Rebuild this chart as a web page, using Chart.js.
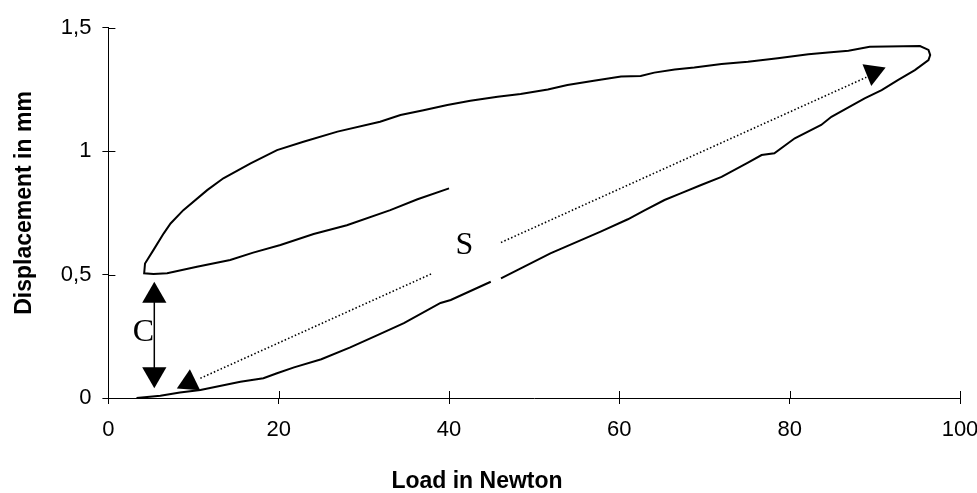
<!DOCTYPE html>
<html>
<head>
<meta charset="utf-8">
<script src="https://cdn.jsdelivr.net/npm/chart.js@4.4.1/dist/chart.umd.min.js"></script>
<style>
  html, body { margin: 0; padding: 0; background: #fff; overflow: hidden; }
  #chart { display: block; }
</style>
</head>
<body>
<canvas id="chart" width="977" height="493"></canvas>
<script>
// hysteresis loop: loading branch, unloading branch, then reloading branch
// (null = the small break in the loading branch)
const loadN = [3.3, 6.1, 8.4, 10.8, 15.5, 18.2, 19.8, 21.8, 25.0, 28.4, 31.6, 34.7, 39.0, 40.2, 44.9, null,
  46.1, 51.9, 57.8, 61.0, 62.9, 65.3, 67.2, 69.6, 72.0, 75.1, 76.7, 78.2, 80.6, 83.7, 84.9, 88.8, 90.8, 92.7, 94.7, 96.3, 96.5,
  96.3, 95.3, 89.4, 86.9, 84.5, 82.2, 78.6, 75.1, 72.0, 68.8, 66.5, 64.1, 62.5, 60.2, 57.0, 53.9, 51.6, 48.4, 45.7, 42.5,
  39.8, 37.0, 34.3, 31.9, 26.9, 22.9, 19.8, 16.7, 13.5, 11.6, 8.8, 7.3, 6.5, 5.3, 4.3, 4.2,
  5.3, 6.9, 10.4, 14.3, 17.0, 20.2, 24.1, 28.0, 33.1, 36.3, 40.0];
const dispMm = [0.0, 0.009, 0.022, 0.032, 0.066, 0.08, 0.10, 0.124, 0.157, 0.205, 0.255, 0.303, 0.385, 0.397, 0.471, null,
  0.485, 0.586, 0.674, 0.724, 0.759, 0.802, 0.829, 0.863, 0.896, 0.953, 0.984, 0.991, 1.052, 1.106, 1.139, 1.214, 1.247, 1.288, 1.328, 1.369, 1.389,
  1.41, 1.426, 1.423, 1.407, 1.400, 1.392, 1.376, 1.362, 1.353, 1.339, 1.331, 1.318, 1.304, 1.302, 1.285, 1.268, 1.250, 1.231, 1.220, 1.204,
  1.187, 1.166, 1.146, 1.119, 1.079, 1.038, 1.004, 0.950, 0.890, 0.842, 0.761, 0.707, 0.667, 0.600, 0.545, 0.505,
  0.502, 0.505, 0.532, 0.559, 0.589, 0.620, 0.664, 0.700, 0.761, 0.805, 0.849];

// dotted "S" line, broken around its label
const sLineX = [10.8, 38.0, null, 46.1, 89.0];
const sLineY = [0.08, 0.504, null, 0.630, 1.299];
const sHeadX = [9.46, 89.8];
const sHeadY = [0.062, 1.318];
const sHeadRot = [4, 188];

// "C" double arrow
const cArrowX = [5.39, 5.39];
const cArrowY = [0.096, 0.414];
const cArrowRot = [180, 0];

const markLabels = ["S", "C"];
const markX = [41.8, 4.1];
const markY = [0.617, 0.264];

const xTicks = [0, 20, 40, 60, 80, 100];
const xTickLabels = ["0", "20", "40", "60", "80", "100"];
const yTicks = [0, 0.5, 1, 1.5];
const yTickLabels = ["0", "0,5", "1", "1,5"];
const xTitle = "Load in Newton";
const yTitle = "Displacement in mm";

const pts = (xs, ys) => xs.map((x, i) => ({ x: x, y: ys[i] }));

Chart.defaults.font.family = "'Liberation Sans', Arial, sans-serif";
Chart.defaults.color = "#000";

// inner half of the crossing ticks, the S / C letters and the axis titles
const extras = {
  id: "extras",
  afterDatasetsDraw(chart) {
    const { ctx, scales } = chart;
    const x = scales.x, y = scales.y;
    ctx.save();
    ctx.strokeStyle = "#000";
    ctx.lineWidth = 1;
    x.ticks.forEach((t) => {
      const px = Math.round(x.getPixelForValue(t.value)) + 0.5;
      ctx.beginPath();
      ctx.moveTo(px, y.bottom);
      ctx.lineTo(px, y.bottom - 7);
      ctx.stroke();
    });
    y.ticks.forEach((t) => {
      const py = Math.round(y.getPixelForValue(t.value)) + 0.5;
      ctx.beginPath();
      ctx.moveTo(x.left, py);
      ctx.lineTo(x.left + 7, py);
      ctx.stroke();
    });

    ctx.fillStyle = "#000";
    ctx.textAlign = "center";
    ctx.textBaseline = "middle";
    ctx.font = "32px 'Liberation Serif', 'Times New Roman', serif";
    markLabels.forEach((s, i) => {
      ctx.fillText(s, x.getPixelForValue(markX[i]), y.getPixelForValue(markY[i]));
    });

    ctx.font = "bold 23px 'Liberation Sans', Arial, sans-serif";
    ctx.fillText(xTitle, 477, 482);
    ctx.translate(25, 203);
    ctx.rotate(-Math.PI / 2);
    ctx.fillText(yTitle, 0, 0);
    ctx.restore();
  }
};

new Chart(document.getElementById("chart"), {
  type: "scatter",
  data: {
    datasets: [
      {
        data: pts(sHeadX, sHeadY),
        showLine: false,
        pointStyle: "triangle",
        pointRadius: 13.5,
        pointRotation: sHeadRot,
        pointBackgroundColor: "#000",
        pointBorderWidth: 0,
        clip: false
      },
      {
        data: pts(cArrowX, cArrowY),
        showLine: true,
        borderColor: "#000",
        borderWidth: 1.5,
        pointStyle: "triangle",
        pointRadius: 14,
        pointRotation: cArrowRot,
        pointBackgroundColor: "#000",
        pointBorderWidth: 0,
        clip: false
      },
      {
        data: pts(sLineX, sLineY),
        showLine: true,
        spanGaps: false,
        borderColor: "#000",
        borderWidth: 1.6,
        borderDash: [1.5, 2.2],
        pointRadius: 0
      },
      {
        data: pts(loadN, dispMm),
        showLine: true,
        spanGaps: false,
        borderColor: "#000",
        borderWidth: 2,
        pointRadius: 0,
        tension: 0
      }
    ]
  },
  options: {
    responsive: false,
    animation: false,
    events: [],
    layout: { padding: { top: 27.7, right: 0, bottom: 0, left: 0 } },
    plugins: { legend: { display: false }, tooltip: { enabled: false } },
    scales: {
      x: {
        type: "linear",
        min: 0,
        max: 100,
        afterBuildTicks: (s) => { s.ticks = xTicks.map((v) => ({ value: v })); },
        afterFit: (s) => { s.height = 95; s.paddingRight = 17; },
        ticks: {
          padding: 13,
          font: { size: 22 },
          callback: (v) => xTickLabels[xTicks.indexOf(v)]
        },
        grid: { drawOnChartArea: false, drawTicks: true, tickLength: 6, color: "#000" },
        border: { display: true, color: "#000", width: 1 }
      },
      y: {
        type: "linear",
        min: 0,
        max: 1.5,
        afterBuildTicks: (s) => { s.ticks = yTicks.map((v) => ({ value: v })); },
        afterFit: (s) => { s.width = 108.4; s.paddingTop = 0; },
        ticks: {
          padding: 11,
          font: { size: 22 },
          callback: (v) => yTickLabels[yTicks.indexOf(v)]
        },
        grid: { drawOnChartArea: false, drawTicks: true, tickLength: 6, color: "#000" },
        border: { display: true, color: "#000", width: 1 }
      }
    }
  },
  plugins: [extras]
});
</script>
</body>
</html>
